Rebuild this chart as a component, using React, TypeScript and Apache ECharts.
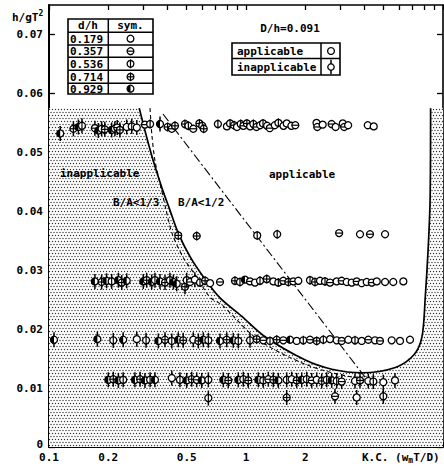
import React, { useEffect, useRef } from 'react';
import * as echarts from 'echarts';

// ---- axes ----
const xTickValues = [0.1, 0.2, 0.3, 0.4, 0.5, 0.6, 0.7, 0.8, 0.9, 1, 2, 3, 4, 5, 6, 7, 8, 9, 10];
const xLabelValues = [0.1, 0.2, 0.5, 1, 2];
const yTickValues = [0, 0.01, 0.02, 0.03, 0.04, 0.05, 0.06, 0.07];

// ---- legend ----
const dhValues = ['0.179', '0.357', '0.536', '0.714', '0.929'];
const classLabels = ['applicable', 'inapplicable'];

// ---- data: [K.C., h/gT^2, symbol index (d/h), inapplicable flag] ----
const rowA: number[][] = [
  [0.114, 0.0532, 4, 1], [0.133, 0.054, 3, 1], [0.141, 0.0543, 4, 1], [0.147, 0.0545, 2, 1],
  [0.171, 0.0541, 1, 1], [0.178, 0.0537, 4, 1], [0.185, 0.054, 2, 1], [0.192, 0.0539, 3, 1],
  [0.208, 0.0538, 4, 1], [0.216, 0.054, 2, 1], [0.222, 0.0542, 1, 1], [0.229, 0.0538, 3, 1],
  [0.248, 0.0543, 0, 1], [0.263, 0.0544, 2, 1], [0.279, 0.0542, 0, 1], [0.307, 0.0547, 1, 0],
  [0.326, 0.0548, 2, 0], [0.366, 0.0548, 4, 1], [0.4, 0.0543, 3, 0], [0.42, 0.054, 1, 0],
  [0.436, 0.0545, 3, 0], [0.49, 0.0548, 3, 0], [0.51, 0.0545, 2, 0], [0.54, 0.054, 1, 0],
  [0.58, 0.0549, 3, 0], [0.6, 0.0545, 2, 0], [0.61, 0.054, 3, 0], [0.72, 0.0548, 2, 0],
  [0.8, 0.0544, 0, 0], [0.83, 0.0549, 2, 0], [0.87, 0.0546, 3, 0], [0.9, 0.0543, 0, 0],
  [0.94, 0.0548, 2, 0], [0.97, 0.0545, 1, 0], [1.01, 0.0549, 3, 0], [1.05, 0.0544, 0, 0],
  [1.09, 0.0548, 2, 0], [1.13, 0.0543, 1, 0], [1.18, 0.0546, 0, 0], [1.22, 0.0549, 2, 0],
  [1.28, 0.0545, 0, 0], [1.32, 0.0541, 1, 0], [1.4, 0.0546, 0, 0], [1.46, 0.055, 2, 0],
  [1.55, 0.0545, 0, 0], [1.61, 0.0549, 0, 0], [1.7, 0.0545, 0, 0], [1.78, 0.0546, 1, 0],
  [2.28, 0.055, 0, 0], [2.3, 0.0543, 1, 0], [2.45, 0.0547, 0, 0], [2.72, 0.0548, 1, 0],
  [2.85, 0.0543, 0, 0], [3.1, 0.0549, 0, 0], [3.15, 0.0543, 1, 0], [3.3, 0.0546, 0, 0],
  [4.15, 0.0546, 0, 0], [4.45, 0.0544, 0, 0],
];
const rowB: number[][] = [
  [0.453, 0.0359, 3, 0], [0.562, 0.0358, 3, 0], [1.14, 0.0359, 2, 0], [1.44, 0.0361, 2, 0],
  [2.97, 0.0363, 1, 0], [3.79, 0.0361, 0, 0], [4.26, 0.0361, 1, 0], [5.08, 0.0361, 0, 0],
];
const rowC: number[][] = [
  [0.171, 0.0281, 4, 1], [0.185, 0.028, 3, 1], [0.196, 0.0282, 4, 1], [0.208, 0.0281, 2, 1],
  [0.225, 0.0283, 4, 1], [0.234, 0.0279, 3, 1], [0.248, 0.0282, 4, 1], [0.301, 0.0281, 4, 1],
  [0.313, 0.0283, 3, 1], [0.332, 0.028, 4, 1], [0.345, 0.0283, 2, 1], [0.366, 0.0281, 4, 1],
  [0.388, 0.0279, 3, 1], [0.411, 0.0283, 2, 1], [0.428, 0.028, 4, 1], [0.445, 0.0277, 4, 1],
  [0.49, 0.0272, 3, 1], [0.5, 0.0283, 2, 1], [0.52, 0.028, 1, 0], [0.55, 0.0284, 0, 1],
  [0.584, 0.0279, 2, 0], [0.62, 0.0282, 3, 0], [0.657, 0.0278, 0, 0], [0.738, 0.028, 1, 0],
  [0.879, 0.0282, 3, 0], [0.932, 0.028, 2, 0], [0.988, 0.0284, 4, 0], [1.048, 0.0281, 1, 0],
  [1.111, 0.0279, 0, 0], [1.178, 0.0282, 2, 0], [1.274, 0.0285, 3, 0], [1.376, 0.0281, 0, 0],
  [1.459, 0.0279, 2, 0], [1.546, 0.0282, 1, 0], [1.64, 0.028, 3, 0], [1.739, 0.0281, 1, 0],
  [1.843, 0.0282, 0, 0], [2.113, 0.0283, 2, 0], [2.24, 0.028, 3, 0], [2.375, 0.0282, 0, 0],
  [2.518, 0.0281, 2, 0], [2.67, 0.0279, 1, 0], [2.886, 0.0281, 0, 0], [3.06, 0.0282, 1, 0],
  [3.245, 0.028, 0, 0], [3.44, 0.0279, 0, 0], [3.647, 0.0281, 1, 0], [3.867, 0.0278, 0, 0],
  [4.1, 0.028, 0, 0], [4.35, 0.0279, 1, 0], [4.61, 0.0281, 0, 0], [5.08, 0.028, 0, 0],
  [5.59, 0.028, 0, 0], [6.29, 0.0281, 0, 0],
];
const rowD: number[][] = [
  [0.106, 0.0182, 4, 1], [0.176, 0.0183, 4, 1], [0.212, 0.0181, 2, 1], [0.238, 0.0182, 4, 1],
  [0.279, 0.0183, 0, 1], [0.311, 0.0181, 2, 1], [0.359, 0.018, 4, 1], [0.388, 0.0182, 3, 1],
  [0.42, 0.018, 2, 1], [0.453, 0.0182, 4, 1], [0.48, 0.0181, 3, 1], [0.54, 0.0182, 0, 1],
  [0.573, 0.018, 3, 1], [0.607, 0.0182, 4, 1], [0.644, 0.0181, 2, 1], [0.738, 0.018, 4, 1],
  [0.798, 0.0182, 3, 1], [0.862, 0.0181, 4, 1], [0.914, 0.018, 2, 1], [1.048, 0.0181, 2, 1],
  [1.133, 0.0183, 3, 0], [1.224, 0.0181, 1, 0], [1.324, 0.018, 2, 0], [1.432, 0.0182, 3, 0],
  [1.546, 0.0181, 1, 0], [1.673, 0.0182, 4, 0], [1.809, 0.018, 0, 0], [1.954, 0.0181, 2, 0],
  [2.113, 0.0182, 1, 0], [2.285, 0.018, 3, 0], [2.469, 0.0182, 2, 0], [2.67, 0.0183, 0, 0],
  [2.886, 0.0181, 0, 0], [3.06, 0.018, 1, 0], [3.306, 0.0182, 0, 0], [3.575, 0.0181, 2, 0],
  [3.867, 0.018, 0, 0], [4.177, 0.0182, 1, 0], [4.517, 0.0181, 0, 0], [4.788, 0.018, 1, 0],
  [5.49, 0.0181, 0, 0], [6.05, 0.018, 0, 0], [6.8, 0.0182, 0, 0],
];
const rowE: number[][] = [
  [0.2, 0.0114, 4, 1], [0.212, 0.0115, 3, 1], [0.225, 0.0113, 4, 1], [0.238, 0.0114, 2, 1],
  [0.273, 0.0114, 4, 1], [0.29, 0.0115, 3, 1], [0.307, 0.0113, 4, 1], [0.326, 0.0114, 2, 1],
  [0.345, 0.0114, 4, 1], [0.42, 0.0117, 0, 1], [0.462, 0.0114, 2, 1], [0.5, 0.0113, 4, 1],
  [0.53, 0.0115, 3, 1], [0.562, 0.0114, 1, 1], [0.596, 0.0113, 4, 1], [0.644, 0.0114, 2, 1],
  [0.767, 0.0114, 4, 1], [0.813, 0.0113, 3, 1], [0.914, 0.0114, 4, 1], [0.969, 0.0115, 2, 1],
  [1.027, 0.0113, 3, 1], [1.155, 0.0114, 4, 1], [1.224, 0.0113, 2, 1], [1.298, 0.0115, 1, 1],
  [1.376, 0.0114, 3, 1], [1.459, 0.0113, 4, 1], [1.609, 0.0114, 2, 1], [1.706, 0.0115, 0, 1],
  [1.809, 0.0113, 3, 1], [1.918, 0.0114, 4, 1], [2.033, 0.0115, 2, 1], [2.155, 0.0113, 1, 1],
  [2.285, 0.0114, 0, 1], [2.423, 0.0112, 3, 1], [2.568, 0.0114, 2, 1], [2.723, 0.0113, 4, 1],
  [2.886, 0.0112, 2, 1], [3.06, 0.0111, 1, 1], [3.575, 0.0112, 0, 1], [3.79, 0.0113, 3, 1],
  [4.177, 0.0112, 0, 1], [4.429, 0.0111, 2, 1], [4.977, 0.011, 0, 1], [5.705, 0.0113, 0, 1],
];
const rowLow: number[][] = [
  [0.644, 0.0083, 2, 1], [1.609, 0.0084, 3, 1], [2.83, 0.0086, 1, 1], [3.647, 0.0084, 0, 1],
  [4.977, 0.0086, 2, 1],
];

// ---- boundaries [K.C., h/gT^2] ----
const shadeTop = 0.0575;
const solidBoundary: number[][] = [
  [0.287, 0.0575], [0.313, 0.0526], [0.338, 0.0486], [0.373, 0.0441], [0.411, 0.0402],
  [0.453, 0.0363], [0.52, 0.0323], [0.607, 0.0289], [0.738, 0.0253], [0.95, 0.0222],
  [1.25, 0.0187], [2.0, 0.01475], [2.73, 0.0132], [3.88, 0.0126], [5.73, 0.0135],
  [7.1, 0.0156], [7.82, 0.0187], [8.13, 0.0255], [8.4, 0.0334], [8.6, 0.0419], [8.65, 0.0575],
];
const dashedBoundary: number[][] = [
  [0.3256, 0.0575], [0.333, 0.0529], [0.345, 0.0486], [0.37, 0.0441], [0.393, 0.0402],
  [0.421, 0.0363], [0.479, 0.0322], [0.564, 0.0288], [0.657, 0.0254], [0.756, 0.0241],
  [1.111, 0.0186], [1.653, 0.01525], [2.43, 0.01305], [3.66, 0.0117],
];
const dashDotLine: number[][] = [[0.379, 0.0565], [4.02, 0.01186]];

const FONT_FAMILY = '"DejaVu Sans Mono", monospace';
const FONT = 'bold 11px ' + FONT_FAMILY;

function symbolChildren(cx: number, cy: number, t: number, inapp: number, r: number, z = 0) {
  const st = { stroke: '#000', lineWidth: 1.2 };
  const ch: any[] = [
    { type: 'circle', z, shape: { cx, cy, r }, style: { fill: '#fff', stroke: '#000', lineWidth: 1.3 } },
  ];
  if (t === 1 || t === 3) ch.push({ type: 'line', z, shape: { x1: cx - r, y1: cy, x2: cx + r, y2: cy }, style: st });
  if (t === 2 || t === 3) ch.push({ type: 'line', z, shape: { x1: cx, y1: cy - r - 1, x2: cx, y2: cy + r + 1 }, style: st });
  if (t === 4)
    ch.push({
      type: 'sector', z,
      shape: { cx, cy, r0: 0, r, startAngle: Math.PI / 2, endAngle: Math.PI * 1.5 },
      style: { fill: '#000' },
    });
  if (inapp) {
    ch.push({ type: 'line', z, shape: { x1: cx, y1: cy - r - 4, x2: cx, y2: cy - r }, style: { stroke: '#000', lineWidth: 1.5 } });
    ch.push({ type: 'line', z, shape: { x1: cx, y1: cy + r, x2: cx, y2: cy + r + 4 }, style: { stroke: '#000', lineWidth: 1.5 } });
  }
  return ch;
}

function makePattern() {
  const c = document.createElement('canvas');
  c.width = 6;
  c.height = 6;
  const g = c.getContext('2d')!;
  g.fillStyle = '#fff';
  g.fillRect(0, 0, 6, 6);
  g.fillStyle = '#333';
  const dots = [[1.5, 1.5], [4.5, 1.5], [0, 4.5], [3, 4.5], [6, 4.5]];
  dots.forEach(([x, y]) => {
    g.beginPath();
    g.arc(x, y, 0.7, 0, Math.PI * 2);
    g.fill();
  });
  return { image: c, repeat: 'repeat', imageWidth: 6, imageHeight: 6 };
}

function txt(text: string, x: number, y: number, align = 'left', font = FONT) {
  return {
    type: 'text',
    x,
    y,
    z: 20,
    style: { text, font, fill: '#000', align, verticalAlign: 'middle', textAlign: align, textVerticalAlign: 'middle' },
  };
}

function ln(x1: number, y1: number, x2: number, y2: number, w = 1.5) {
  return { type: 'line', z: 20, shape: { x1, y1, x2, y2 }, style: { stroke: '#000', lineWidth: w } };
}

export default function App() {
  const ref = useRef<HTMLDivElement>(null);
  useEffect(() => {
    document.body.style.margin = '0';
    const chart = echarts.init(ref.current!, undefined, { renderer: 'svg' });
    const lg = (v: number) => Math.log10(v);
    const toXY = (arr: number[][]) => arr.map((p) => [lg(p[0]), p[1]]);
    const points = [...rowA, ...rowB, ...rowC, ...rowD, ...rowE, ...rowLow].map((p) => [lg(p[0]), p[1], p[2], p[3]]);
    const shadePoly = [[0.1, 0], [0.1, shadeTop], ...solidBoundary, [10, shadeTop], [10, 0]];
    const pattern = makePattern();

    const labelFmt = (v: number) => String(+Math.pow(10, v).toPrecision(2));
    const axisFont = { fontFamily: FONT_FAMILY, fontWeight: 'bold' as const, fontSize: 11, color: '#000' };

    // legend tables
    const t1Rows = [19, 32.3, 45, 57.3, 70.3, 83.3, 94];
    const g: any[] = [];
    g.push({ type: 'rect', z: 19, shape: { x: 68, y: 19, width: 85, height: 75 }, style: { fill: '#fff', stroke: '#000', lineWidth: 1.6 } });
    g.push(ln(108.3, 19, 108.3, 94));
    t1Rows.slice(1, 6).forEach((y) => g.push(ln(68, y, 153, y)));
    g.push(txt('d/h', 88, 25.7, 'center'));
    g.push(txt('sym.', 130.5, 25.7, 'center'));
    dhValues.forEach((v, i) => {
      const cy = (t1Rows[i + 1] + t1Rows[i + 2]) / 2;
      g.push(txt(v, 70, cy + 0.5, 'left', 'bold 11px ' + FONT_FAMILY));
      g.push({ type: 'group', z: 21, children: symbolChildren(130.5, cy, i, 0, 3.4, 21) });
    });
    g.push({ type: 'rect', z: 19, shape: { x: 232, y: 43, width: 108, height: 32 }, style: { fill: '#fff', stroke: '#000', lineWidth: 1.6 } });
    g.push(ln(321, 43, 321, 75));
    g.push(ln(232, 58.5, 340, 58.5));
    g.push(txt(classLabels[0], 237, 51));
    g.push(txt(classLabels[1], 237, 67));
    g.push({ type: 'group', z: 21, children: symbolChildren(331, 51, 0, 0, 3.4, 21) });
    g.push({ type: 'group', z: 21, children: symbolChildren(331, 67, 0, 1, 3.2, 21) });
    // annotations
    g.push(txt('D/h=0.091', 290, 28, 'center'));
    g.push(txt('inapplicable', 60, 173));
    g.push(txt('applicable', 269, 174));
    g.push(txt('B/A<1/3', 113, 202));
    g.push(txt('B/A<1/2', 178, 202));
    g.push({
      type: 'text', x: 12, y: 17, z: 20,
      style: {
        text: '{a|h/gT}{s|2}', fill: '#000', verticalAlign: 'middle', textVerticalAlign: 'middle',
        rich: {
          a: { fontFamily: FONT_FAMILY, fontWeight: 'bold', fontSize: 11 },
          s: { fontFamily: FONT_FAMILY, fontWeight: 'bold', fontSize: 8, padding: [0, 0, 8, 0] },
        },
      },
    });
    g.push({
      type: 'text', x: 362, y: 457, z: 20,
      style: {
        text: '{a|K.C. (w}{s|m}{a|T/D)}', fill: '#000', verticalAlign: 'middle', textVerticalAlign: 'middle',
        rich: {
          a: { fontFamily: FONT_FAMILY, fontWeight: 'bold', fontSize: 11 },
          s: { fontFamily: FONT_FAMILY, fontWeight: 'bold', fontSize: 8, padding: [7, 0, 0, 0] },
        },
      },
    });

    const xAxisBase = {
      type: 'value' as const,
      min: -1,
      max: 1,
      splitLine: { show: false },
    };
    const yAxisBase = {
      type: 'value' as const,
      min: 0,
      max: 0.075,
      splitLine: { show: false },
    };

    chart.setOption({
      animation: false,
      backgroundColor: '#fff',
      grid: { left: 49, right: 1, top: 5, bottom: 19 },
      xAxis: [
        {
          ...xAxisBase,
          position: 'bottom',
          axisLine: { onZero: false, lineStyle: { color: '#000', width: 2 } },
          axisTick: { inside: true, length: 5, customValues: xTickValues.map(lg), lineStyle: { color: '#000', width: 1.3 } },
          axisLabel: { ...axisFont, margin: 5, customValues: xLabelValues.map(lg), formatter: labelFmt },
        },
        {
          ...xAxisBase,
          position: 'top',
          axisLine: { onZero: false, lineStyle: { color: '#000', width: 1.6 } },
          axisTick: { inside: true, length: 5, customValues: xTickValues.map(lg), lineStyle: { color: '#000', width: 1.3 } },
          axisLabel: { show: false },
        },
      ],
      yAxis: [
        {
          ...yAxisBase,
          position: 'left',
          axisLine: { onZero: false, lineStyle: { color: '#000', width: 2 } },
          axisTick: { inside: true, length: 6, customValues: yTickValues, lineStyle: { color: '#000', width: 1.3 } },
          axisLabel: {
            ...axisFont, margin: 6, customValues: yTickValues,
            formatter: (v: number) => (v === 0 ? '{z|0}' : v.toFixed(2)),
            rich: { z: { fontFamily: FONT_FAMILY, fontWeight: 'bold', fontSize: 11, color: '#000', padding: [0, 0, 6, 0] } },
          },
        },
        {
          ...yAxisBase,
          position: 'right',
          axisLine: { onZero: false, lineStyle: { color: '#000', width: 1.6 } },
          axisTick: { inside: true, length: 6, customValues: yTickValues, lineStyle: { color: '#000', width: 1.3 } },
          axisLabel: { show: false },
        },
      ],
      series: [
        {
          type: 'custom',
          silent: true,
          z: 1,
          data: [[0, 0]],
          renderItem: (_p: any, api: any) => ({
            type: 'polygon',
            shape: { points: shadePoly.map((q) => api.coord([lg(q[0]), q[1]])) },
            style: { fill: pattern },
          }),
        },
        {
          type: 'line', z: 3, silent: true, showSymbol: false, smooth: 0.3,
          data: toXY(solidBoundary),
          lineStyle: { color: '#000', width: 1.7 },
        },
        {
          type: 'line', z: 3, silent: true, showSymbol: false, smooth: 0.3,
          data: toXY(dashedBoundary),
          lineStyle: { color: '#000', width: 1.1, type: [4, 3] },
        },
        {
          type: 'line', z: 3, silent: true, showSymbol: false,
          data: toXY(dashDotLine),
          lineStyle: { color: '#000', width: 1.1, type: [9, 3, 2, 3] },
        },
        {
          type: 'custom', z: 5, silent: true,
          data: points,
          renderItem: (_p: any, api: any) => {
            const c = api.coord([api.value(0), api.value(1)]);
            return { type: 'group', children: symbolChildren(c[0], c[1], api.value(2), api.value(3), 3.5) };
          },
        },
      ],
      graphic: g,
    });
    return () => chart.dispose();
  }, []);
  return <div ref={ref} style={{ width: 444, height: 466 }} />;
}
